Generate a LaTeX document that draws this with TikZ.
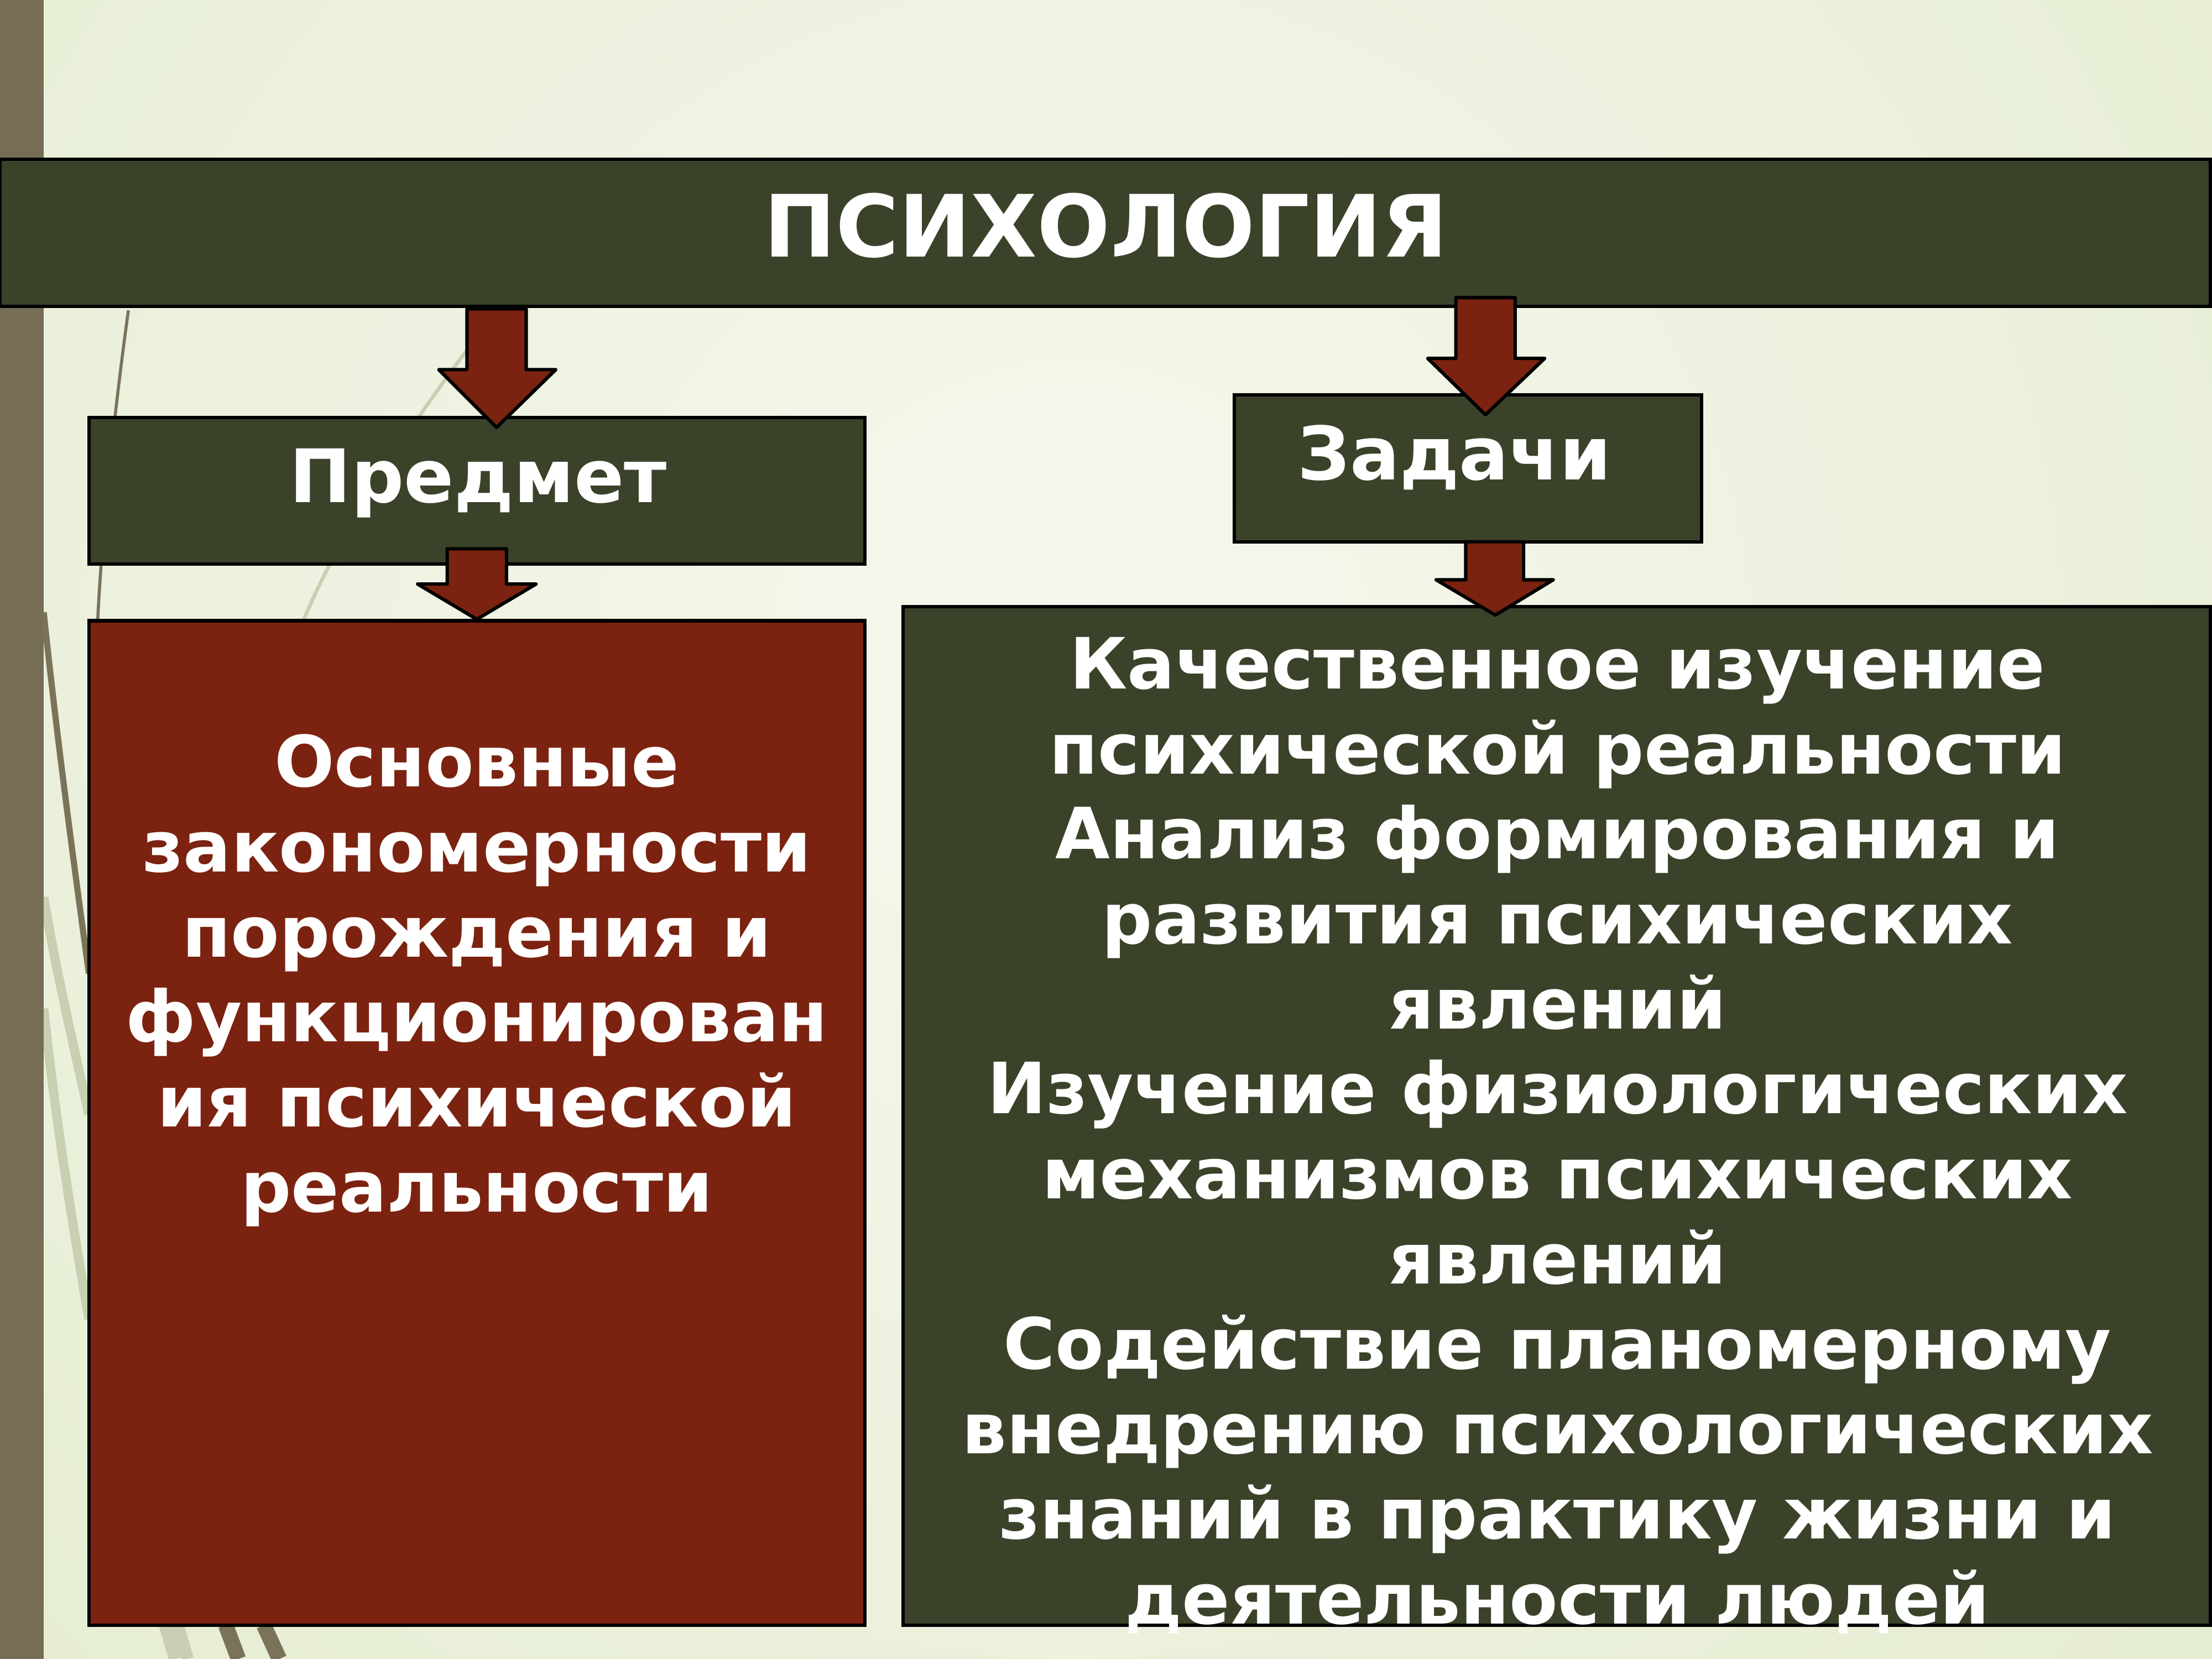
\documentclass[tikz,border=0pt]{standalone}
\usepackage{fontspec}
\setmainfont{DejaVu Sans}
\newfontfamily\boxfont{DejaVu Sans}[BoldFont={DejaVu Sans Bold}]
\definecolor{bgout}{HTML}{DCE7C2}
\definecolor{bgin}{HTML}{F6F8EF}
\definecolor{stripe}{HTML}{756E54}
\definecolor{darkbox}{HTML}{3A432A}
\definecolor{redbox}{HTML}{7B2310}
\definecolor{wispdark}{HTML}{7A735A}
\definecolor{wisplight}{HTML}{C9CFB2}
\tikzset{
  box/.style={draw=black, line width=1.1pt, fill=darkbox},
  rbox/.style={draw=black, line width=1.1pt, fill=redbox},
  blockarrow/.style={draw=black, line width=1.1pt, fill=redbox, line join=round},
  label/.style={text=white, font=\boxfont\bfseries\fontsize{24}{27.7}\selectfont, inner sep=0pt, anchor=base},
  txt/.style={text=white, font=\boxfont\bfseries\fontsize{23}{27.67}\selectfont, align=center, inner sep=0pt, anchor=base},
  title/.style={text=white, font=\boxfont\bfseries\fontsize{28}{32}\selectfont, inner sep=0pt, anchor=base},
}
\begin{document}
\begin{tikzpicture}[x=0.45918pt,y=-0.45918pt]
\useasboundingbox (0,0) rectangle (1568,1176);
% background
\begin{scope}
\clip (0,0) rectangle (1568,1176);
\fill[bgout] (0,0) rectangle (1568,1176);
\shade[inner color=bgin, outer color=bgout] (760,470) circle (1600);
% wisp decorations
\draw[wispdark, line width=1pt] (91,220) .. controls (80,300) and (72,380) .. (69,445);
\draw[wisplight, line width=1.2pt] (345,230) .. controls (290,300) and (240,380) .. (215,440);
\draw[wispdark, line width=2pt] (31,434) .. controls (40,520) and (52,610) .. (63,690);
\draw[wisplight, line width=3pt] (31,636) .. controls (40,690) and (52,740) .. (63,790);
\draw[wisplight, line width=3pt] (31,715) .. controls (40,800) and (52,870) .. (63,935);
\draw[wisplight, line width=4pt] (117,1152) -- (124,1176);
\draw[wisplight, line width=4pt] (126,1152) -- (133,1176);
\draw[wispdark, line width=5pt] (160,1152) -- (169,1176);
\draw[wispdark, line width=5pt] (187,1152) -- (198,1176);
\fill[stripe] (0,0) rectangle (31,1176);
\end{scope}

% boxes
\draw[box] (0,113) rectangle (1567,217);
\node[title] (psy) at (784,182) {ПСИХОЛОГИЯ};

\draw[box] (63,296) rectangle (613,400);
\node[label] (pred) at (339,356) {Предмет};

\draw[box] (875,280) rectangle (1206,384);
\node[label] (zad) at (1031,340) {Задачи};

\draw[rbox] (63,440) rectangle (613,1152);
\node[txt] (osn) at (338,859) {Основные\\закономерности\\порождения и\\функционирован\\ия психической\\реальности};

\draw[box] (640,430) rectangle (1567,1152);
\node[txt] (tasks) at (1104,1151) {Качественное изучение\\психической реальности\\Анализ формирования и\\развития психических\\явлений\\Изучение физиологических\\механизмов психических\\явлений\\Содействие планомерному\\внедрению психологических\\знаний в практику жизни и\\деятельности людей};

% block arrows
\draw[blockarrow] (331,219) -- (373,219) -- (373,262) -- (394,262) -- (352,303) -- (311,262) -- (331,262) -- cycle;
\draw[blockarrow] (317,389) -- (359,389) -- (359,414) -- (380,414) -- (338,439) -- (296,414) -- (317,414) -- cycle;
\draw[blockarrow] (1032,211) -- (1074,211) -- (1074,254) -- (1095,254) -- (1053,294) -- (1012,254) -- (1032,254) -- cycle;
\draw[blockarrow] (1039,384) -- (1080,384) -- (1080,411) -- (1101,411) -- (1060,436) -- (1018,411) -- (1039,411) -- cycle;
\end{tikzpicture}
\end{document}
